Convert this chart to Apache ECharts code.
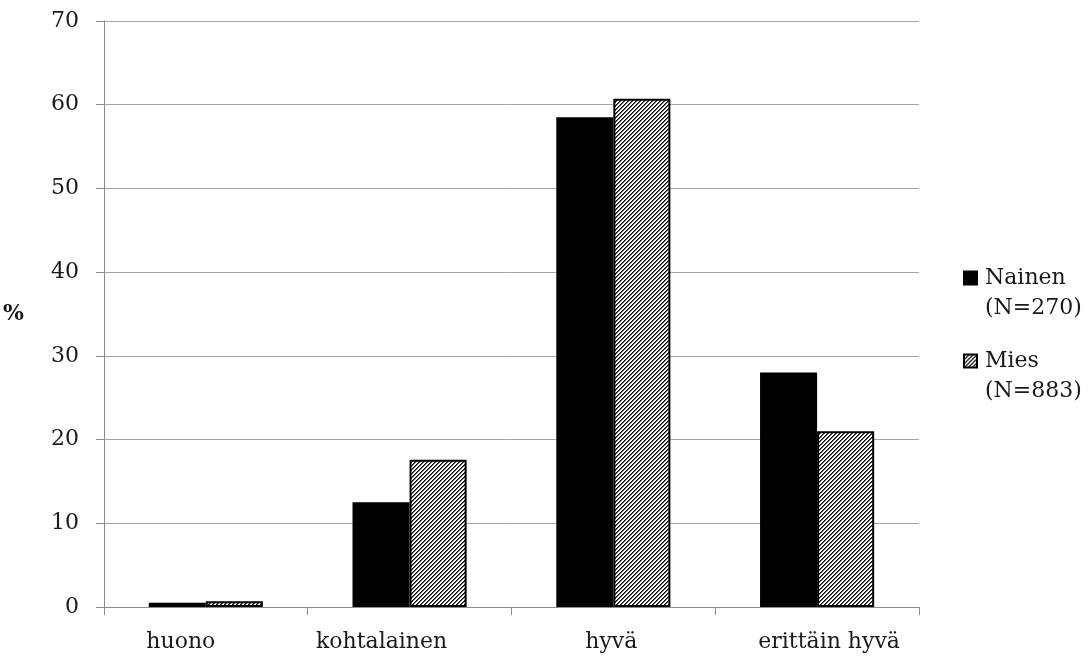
<!DOCTYPE html>
<html>
<head>
<meta charset="utf-8">
<script src="https://cdn.jsdelivr.net/npm/echarts@6/dist/echarts.min.js"></script>
<style>
  html, body { margin: 0; padding: 0; background: #ffffff; }
  #chart { width: 1092px; height: 657px; }
</style>
</head>
<body>
<div id="chart"></div>
<script>
// Survey answers by gender, share of respondents (%)
const categories = ['huono', 'kohtalainen', 'hyvä', 'erittäin hyvä'];
const seriesNames = ['Nainen', 'Mies'];
const seriesNotes = ['(N=270)', '(N=883)'];
const nainenValues = [0.5, 12.5, 58.5, 28.0];
const miesValues = [0.7, 17.6, 60.7, 21.0];
const yMin = 0, yMax = 70, yStep = 10;
const yName = '%';

const FONT = 'DejaVu Serif';
const FS = 22;
const TEXT = '#1a1a1a';
const AXIS = '#8c8c8c';
const GRID = '#a6a6a6';

// horizontal nudge of each category label (px, negative = left)
const labelShift = [-25, -28, -2, 12];

// Dense "/" hatch tile used for the second series
function hatchTile() {
  const n = 4;
  const c = document.createElement('canvas');
  c.width = n; c.height = n;
  const ctx = c.getContext('2d');
  const img = ctx.createImageData(n, n);
  for (let y = 0; y < n; y++) {
    for (let x = 0; x < n; x++) {
      const k = (x + y) % n;
      const v = k === 0 ? 0 : (k === 1 ? 90 : 255);
      const i = (y * n + x) * 4;
      img.data[i] = v; img.data[i + 1] = v; img.data[i + 2] = v; img.data[i + 3] = 255;
    }
  }
  ctx.putImageData(img, 0, 0);
  return c;
}
const hatch = { image: hatchTile(), repeat: 'repeat' };

const labelRich = {};
labelShift.forEach((d, i) => {
  labelRich['c' + i] = {
    fontFamily: FONT, fontSize: FS, color: TEXT,
    padding: d < 0 ? [0, -2 * d, 0, 0] : [0, 0, 0, 2 * d]
  };
});

const chart = echarts.init(document.getElementById('chart'), null, { renderer: 'canvas' });

// a blank first line keeps the series name level with the legend swatch
const legendText = {
  fontFamily: FONT, fontSize: FS, color: TEXT, lineHeight: 30,
  rich: { t: { fontFamily: FONT, fontSize: FS, color: TEXT, lineHeight: 30, padding: [0, 0, 0, 3] } }
};
function legendFor(i, top) {
  return {
    data: [seriesNames[i]], orient: 'vertical', left: 963, top: top, padding: 0,
    icon: 'rect', itemWidth: 13, itemHeight: 13, itemGap: 0, textStyle: legendText,
    formatter: name => '{t| }\n{t|' + name + '}\n{t|' + seriesNotes[i] + '}'
  };
}

chart.setOption({
  animation: false,
  backgroundColor: '#ffffff',
  grid: { left: 103, right: 173, top: 21, bottom: 50, containLabel: false },
  legend: [legendFor(0, 278 - 45), legendFor(1, 361 - 45)],
  xAxis: {
    type: 'category',
    data: categories,
    axisLine: { lineStyle: { color: AXIS, width: 1 } },
    axisTick: { show: true, interval: 0, length: 8, lineStyle: { color: AXIS, width: 1 } },
    axisLabel: {
      interval: 0, hideOverlap: false,
      fontFamily: FONT, fontSize: FS, color: TEXT, margin: 24,
      formatter: (v, i) => '{c' + i + '|' + v + '}',
      rich: labelRich
    }
  },
  yAxis: {
    type: 'value',
    min: yMin, max: yMax, interval: yStep,
    name: yName,
    nameLocation: 'middle',
    nameRotate: 0,
    nameGap: 80,
    nameTextStyle: { fontFamily: FONT, fontSize: FS, fontWeight: 'bold', color: TEXT, padding: [6, 0, 0, 0] },
    axisLine: { show: true, lineStyle: { color: AXIS, width: 1 } },
    axisTick: { show: true, length: 8, lineStyle: { color: AXIS, width: 1 } },
    axisLabel: { fontFamily: FONT, fontSize: FS, color: TEXT, margin: 25 },
    splitLine: { show: true, lineStyle: { color: GRID, width: 1 } }
  },
  series: [
    {
      name: seriesNames[0], type: 'bar', data: nainenValues,
      barGap: '0%', barCategoryGap: '44%',
      itemStyle: { color: '#000000', borderColor: '#000000', borderWidth: 2 }
    },
    {
      name: seriesNames[1], type: 'bar', data: miesValues,
      barGap: '0%', barCategoryGap: '44%',
      itemStyle: { color: hatch, borderColor: '#000000', borderWidth: 2 }
    }
  ]
});
</script>
</body>
</html>
